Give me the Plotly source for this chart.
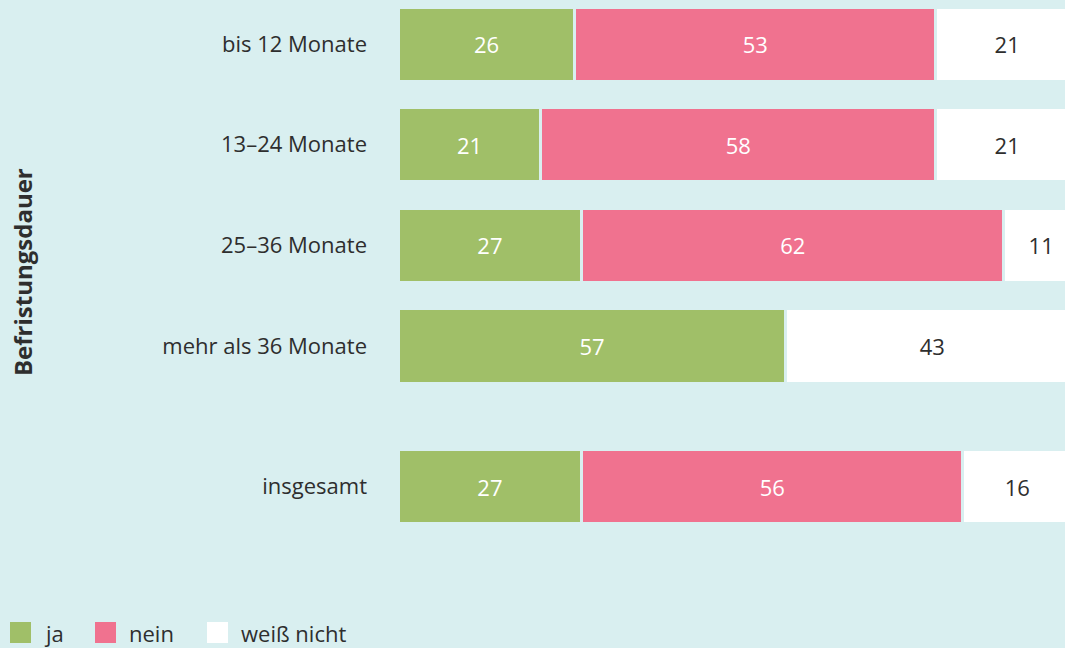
import plotly.graph_objects as go

categories = ["bis 12 Monate", "13–24 Monate", "25–36 Monate", "mehr als 36 Monate", "insgesamt"]
positions = [0, 1, 2, 3, 4.4]
ja = [26, 21, 27, 57, 27]
nein = [53, 58, 62, None, 56]
weiss_nicht = [21, 21, 11, 43, 16]

series = [("ja", ja, "#a0bf68", "white"),
          ("nein", nein, "#f0728f", "white"),
          ("weiß nicht", weiss_nicht, "#ffffff", "#2e2e2e")]

BG = "#d9eff0"
FONT = "Open Sans"

fig = go.Figure()
for name, vals, color, tcol in series:
    fig.add_trace(go.Bar(
        name=name, y=positions, x=vals, orientation="h",
        marker=dict(color=color, line=dict(color=BG, width=3)),
        width=0.74,
        text=[("" if v is None else str(v)) for v in vals],
        textposition="inside", insidetextanchor="middle",
        textfont=dict(color=tcol, size=22, family=FONT),
        showlegend=False, hoverinfo="skip",
    ))

W, H = 1065, 648
ml, mr, mt, mb = 398, 0, 0, 88
pw = W - ml - mr
ph = H - mt - mb

fig.update_layout(
    width=W, height=H, barmode="stack",
    paper_bgcolor=BG, plot_bgcolor=BG,
    margin=dict(l=ml, r=mr, t=mt, b=mb),
    font=dict(family=FONT, color="#2e2e2e", size=22),
    xaxis=dict(range=[0, 98.0], visible=False, fixedrange=True),
    yaxis=dict(range=[5.13, -0.44], tickvals=positions, ticktext=categories,
               showgrid=False, zeroline=False, ticks="", ticklabelstandoff=30,
               fixedrange=True,
               tickfont=dict(size=22, family=FONT, color="#2e2e2e")),
    bargap=0.26,
)

# y-axis title
fig.add_annotation(text="<b>Befristungsdauer</b>", textangle=-90,
                   xref="paper", yref="paper", x=(22 - ml) / pw, y=1 - 272 / ph,
                   xanchor="center", yanchor="middle",
                   showarrow=False, font=dict(size=24, family=FONT, color="#2e2e2e"))

# legend
legend_items = [("ja", "#a0bf68", 10), ("nein", "#f0728f", 95), ("weiß nicht", "#ffffff", 207)]
for name, color, px in legend_items:
    x0 = (px - ml) / pw
    x1 = (px + 21 - ml) / pw
    y0 = 1 - (643 - mt) / ph
    y1 = 1 - (622 - mt) / ph
    fig.add_shape(type="rect", xref="paper", yref="paper", x0=x0, x1=x1, y0=y0, y1=y1,
                  fillcolor=color, line=dict(width=0))
    fig.add_annotation(text=name, xref="paper", yref="paper",
                       x=(px + 32 - ml) / pw, y=1 - (633 - mt) / ph,
                       xanchor="left", yanchor="middle", showarrow=False,
                       font=dict(size=22, family=FONT, color="#2e2e2e"))

fig.write_html("out.html", config={"displayModeBar": False},
               post_script="document.body.style.margin='0';document.body.style.background='" + BG + "';")
